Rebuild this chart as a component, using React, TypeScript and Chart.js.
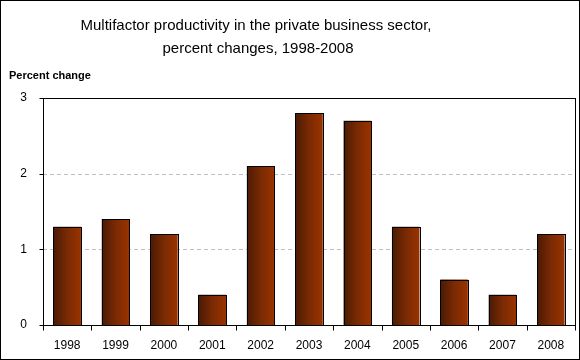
import React, { useEffect, useRef } from "react";
import { Chart, registerables } from "chart.js";

Chart.register(...registerables);

const categories = ["1998", "1999", "2000", "2001", "2002", "2003", "2004", "2005", "2006", "2007", "2008"];
const values = [1.3, 1.4, 1.2, 0.4, 2.1, 2.8, 2.7, 1.3, 0.6, 0.4, 1.2];
const yTicks = [0, 1, 2, 3];
const titleLines = ["Multifactor productivity in the private business sector,", "percent changes, 1998-2008"];
const yAxisTitle = "Percent change";

const FONT = "'Liberation Sans', Arial, sans-serif";
const BAR_PCT = 0.57;

const decorPlugin = {
  id: "decor",
  beforeDatasetsDraw(chart: any) {
    const { ctx, chartArea, scales } = chart;
    const y = scales.y;
    ctx.save();
    ctx.strokeStyle = "#c0c0c0";
    ctx.lineWidth = 1;
    ctx.setLineDash([4, 3]);
    yTicks.forEach((t) => {
      if (t === 0 || t === 3) return;
      const py = Math.round(y.getPixelForValue(t)) + 0.5;
      ctx.beginPath();
      ctx.moveTo(chartArea.left, py);
      ctx.lineTo(chartArea.right, py);
      ctx.stroke();
    });
    ctx.restore();
  },
  afterDatasetsDraw(chart: any) {
    const { ctx } = chart;
    const meta = chart.getDatasetMeta(0);
    ctx.save();
    ctx.strokeStyle = "#000";
    ctx.lineWidth = 1;
    meta.data.forEach((el: any) => {
      const p = el.getProps(["x", "y", "base", "width"], true);
      const l = Math.round(p.x - p.width / 2) + 0.5;
      const r = Math.round(p.x + p.width / 2) + 0.5;
      const t = Math.round(p.y) + 0.5;
      const b = Math.round(p.base) + 0.5;
      ctx.strokeRect(l, t, r - l, b - t);
    });
    ctx.restore();
  },
  afterDraw(chart: any) {
    const { ctx, chartArea, scales, width, height } = chart;
    const y = scales.y;
    const x = scales.x;
    ctx.save();
    ctx.strokeStyle = "#000";
    ctx.lineWidth = 1;
    ctx.setLineDash([]);
    const l = Math.round(chartArea.left) + 0.5;
    const r = Math.round(chartArea.right) + 0.5;
    const t = Math.round(chartArea.top) + 0.5;
    const b = Math.round(chartArea.bottom) + 0.5;
    ctx.strokeRect(l, t, r - l, b - t);
    yTicks.forEach((v) => {
      const py = Math.round(y.getPixelForValue(v)) + 0.5;
      ctx.beginPath();
      ctx.moveTo(l - 4, py);
      ctx.lineTo(l, py);
      ctx.stroke();
    });
    const n = categories.length;
    for (let i = 0; i <= n; i++) {
      const px = Math.round(x.getPixelForValue(i - 0.5)) + 0.5;
      ctx.beginPath();
      ctx.moveTo(px, b);
      ctx.lineTo(px, b + 5);
      ctx.stroke();
    }
    ctx.strokeRect(0.5, 0.5, width - 1, height - 1);
    ctx.fillStyle = "#000";
    ctx.textBaseline = "middle";
    ctx.textAlign = "center";
    ctx.font = `15px ${FONT}`;
    ctx.fillText(titleLines[0], 256, 26);
    ctx.fillText(titleLines[1], 258, 49);
    ctx.textAlign = "left";
    ctx.font = `bold 11px ${FONT}`;
    ctx.fillText(yAxisTitle, 9, 76);
    ctx.restore();
  },
};

export default function App() {
  const ref = useRef<HTMLCanvasElement>(null);
  useEffect(() => {
    const canvas = ref.current!;
    const ctx = canvas.getContext("2d")!;
    const grad = (c: any) => {
      const chart = c.chart;
      const xs = chart.scales && chart.scales.x;
      const area = chart.chartArea;
      if (!xs || !area) return "#993300";
      const cx = xs.getPixelForValue(c.dataIndex);
      const w = ((area.right - area.left) / categories.length) * BAR_PCT;
      if (!isFinite(cx) || !isFinite(w) || w <= 0) return "#993300";
      const g = chart.ctx.createLinearGradient(cx - w / 2, 0, cx + w / 2, 0);
      g.addColorStop(0, "#4a1a04");
      g.addColorStop(0.5, "#7a2a03");
      g.addColorStop(1, "#993300");
      return g;
    };
    const chart = new Chart(ctx, {
      type: "bar",
      data: {
        labels: categories,
        datasets: [
          {
            data: values,
            backgroundColor: grad as any,
            borderWidth: 0,
            barPercentage: BAR_PCT,
            categoryPercentage: 1,
          },
        ],
      },
      options: {
        responsive: false,
        animation: false,
        events: [],
        layout: { padding: { top: 98, right: 5, left: 0, bottom: 0 } },
        plugins: { legend: { display: false }, tooltip: { enabled: false }, title: { display: false } },
        scales: {
          x: {
            grid: { display: false },
            border: { display: false },
            ticks: { color: "#000", font: { family: FONT, size: 12 }, padding: 5, maxRotation: 0 },
            afterFit: (s: any) => {
              s.height = 35;
            },
          },
          y: {
            min: 0,
            max: 3,
            grid: { display: false },
            border: { display: false },
            ticks: {
              color: "#000",
              font: { family: FONT, size: 12 },
              stepSize: 1,
              padding: 8,
              callback: (v: any) => String(v),
            },
            afterFit: (s: any) => {
              s.width = 43;
            },
          },
        },
      },
      plugins: [decorPlugin],
    });
    return () => chart.destroy();
  }, []);
  return (
    <div style={{ position: "absolute", left: 0, top: 0, width: 580, height: 360, background: "#fff" }}>
      <canvas ref={ref} width={580} height={360} style={{ display: "block" }} />
    </div>
  );
}
